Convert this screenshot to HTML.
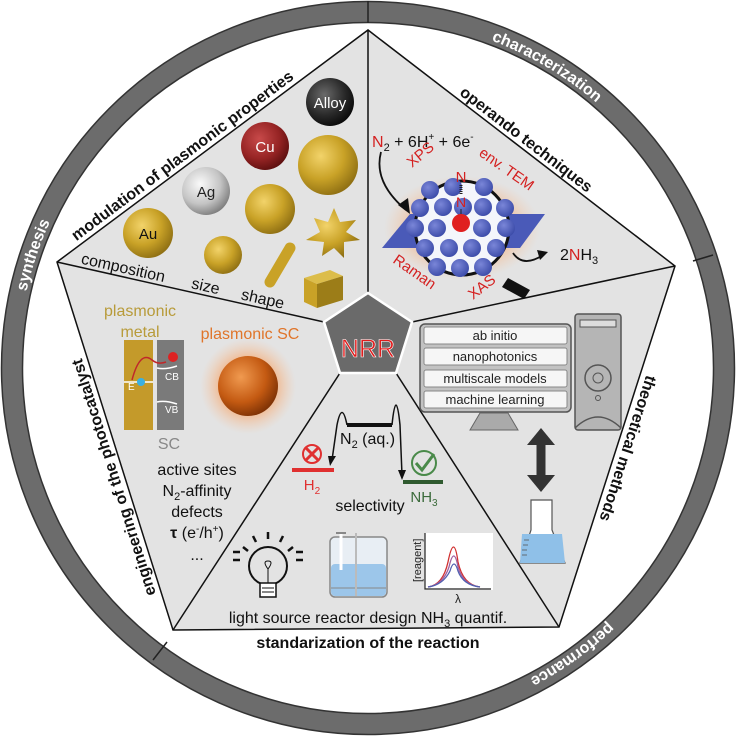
<!DOCTYPE html>
<html><head><meta charset="utf-8"><style>
html,body{margin:0;padding:0;background:#fff}
svg{display:block}
text{font-family:"Liberation Sans",sans-serif}
</style></head><body>
<svg width="736" height="736" viewBox="0 0 736 736" xmlns="http://www.w3.org/2000/svg">
<defs>
<radialGradient id="gold" cx="0.38" cy="0.35" r="0.7"><stop offset="0" stop-color="#f2d36a"/><stop offset="0.55" stop-color="#c9a227"/><stop offset="1" stop-color="#8c6d12"/></radialGradient>
<radialGradient id="ag" cx="0.38" cy="0.35" r="0.7"><stop offset="0" stop-color="#fafafa"/><stop offset="0.6" stop-color="#c4c4c4"/><stop offset="1" stop-color="#7a7a7a"/></radialGradient>
<radialGradient id="cu" cx="0.38" cy="0.35" r="0.7"><stop offset="0" stop-color="#c84a4a"/><stop offset="0.6" stop-color="#962424"/><stop offset="1" stop-color="#5a0e0e"/></radialGradient>
<radialGradient id="al" cx="0.38" cy="0.35" r="0.7"><stop offset="0" stop-color="#6a6a6a"/><stop offset="0.6" stop-color="#2a2a2a"/><stop offset="1" stop-color="#080808"/></radialGradient>
<radialGradient id="cop" cx="0.38" cy="0.35" r="0.7"><stop offset="0" stop-color="#f09a50"/><stop offset="0.6" stop-color="#c45a12"/><stop offset="1" stop-color="#7a3005"/></radialGradient>
<radialGradient id="glow" cx="0.5" cy="0.5" r="0.5"><stop offset="0.5" stop-color="#f4a870" stop-opacity="0.9"/><stop offset="1" stop-color="#f4c8a8" stop-opacity="0"/></radialGradient>
<radialGradient id="bl" cx="0.38" cy="0.35" r="0.7"><stop offset="0" stop-color="#7a86d8"/><stop offset="1" stop-color="#3a4aa8"/></radialGradient>
<path id="ring" d="M 18,368 A 350 350 0 1 1 718,368 A 350 350 0 1 1 18,368"/>
<path id="pModul" d="M 54,258 L 365,26"/>
<path id="pOper" d="M 370,26 L 677,262"/>
<path id="pTheo" d="M 681,268 L 564,628"/>
<path id="pEng" d="M 168,632 L 52,264"/>
<path id="pComp" d="M 56,258 L 324,318"/>
</defs>

<!-- outer ring -->
<circle cx="368" cy="368" r="356" fill="none" stroke="#6c6c6c" stroke-width="21"/>
<circle cx="368" cy="368" r="366.5" fill="none" stroke="#333" stroke-width="1.5"/>
<circle cx="368" cy="368" r="345.5" fill="none" stroke="#333" stroke-width="1.5"/>
<line x1="368" y1="1" x2="368" y2="23" stroke="#222" stroke-width="1.5"/>
<line x1="713" y1="255" x2="693" y2="261" stroke="#222" stroke-width="1.5"/>
<line x1="153" y1="660" x2="167" y2="642" stroke="#222" stroke-width="1.5"/>
<text font-size="16" font-weight="bold" fill="#fff" text-anchor="middle"><textPath href="#ring" startOffset="114">synthesis</textPath></text>
<text font-size="16" font-weight="bold" fill="#fff" text-anchor="middle"><textPath href="#ring" startOffset="737">characterization</textPath></text>
<text font-size="16" font-weight="bold" fill="#fff" text-anchor="middle"><textPath href="#ring" startOffset="1432">performance</textPath></text>

<!-- pentagon -->
<polygon points="57,262 368,30 675,266 559,627 173,630" fill="#e3e3e3" stroke="#111" stroke-width="1.5"/>
<g stroke="#111" stroke-width="1.5">
<line x1="57" y1="262" x2="324" y2="322"/>
<line x1="368" y1="30" x2="368" y2="293"/>
<line x1="675" y1="266" x2="412" y2="322"/>
<line x1="559" y1="627" x2="396" y2="373"/>
<line x1="173" y1="630" x2="340" y2="373"/>
</g>
<polygon points="368,293 412,322 396,373 340,373 324,322" fill="#6a6a6a" stroke="#fff" stroke-width="2.5"/>
<text x="368" y="357" font-size="25" fill="#e01c1c" stroke="#fff" stroke-width="0.6" text-anchor="middle">NRR</text>

<!-- sector titles -->
<text font-size="16" font-weight="bold" fill="#111"><textPath href="#pModul" startOffset="28">modulation of plasmonic properties</textPath></text>
<text font-size="16" font-weight="bold" fill="#111"><textPath href="#pOper" startOffset="112">operando techniques</textPath></text>
<text font-size="16" font-weight="bold" fill="#111"><textPath href="#pTheo" startOffset="112">theoretical methods</textPath></text>
<text font-size="16" font-weight="bold" fill="#111"><textPath href="#pEng" startOffset="40">engineering of the photocatalyst</textPath></text>
<text x="368" y="648" font-size="16" font-weight="bold" fill="#111" text-anchor="middle">standarization of the reaction</text>

<!-- modulation sector -->
<circle cx="148" cy="233" r="25" fill="url(#gold)"/><text x="148" y="239" font-size="15" text-anchor="middle" fill="#111">Au</text>
<circle cx="206" cy="191" r="24" fill="url(#ag)"/><text x="206" y="197" font-size="15" text-anchor="middle" fill="#222">Ag</text>
<circle cx="265" cy="146" r="24" fill="url(#cu)"/><text x="265" y="152" font-size="15" text-anchor="middle" fill="#fff">Cu</text>
<circle cx="330" cy="102" r="24" fill="url(#al)"/><text x="330" y="108" font-size="15" text-anchor="middle" fill="#fff">Alloy</text>
<circle cx="223" cy="255" r="19" fill="url(#gold)"/>
<circle cx="270" cy="209" r="25" fill="url(#gold)"/>
<circle cx="328" cy="165" r="30" fill="url(#gold)"/>
<polygon points="334,208 340,222 356,220 346,232 360,240 344,242 344,258 334,248 322,256 324,242 306,240 320,232 314,218 328,222" fill="url(#gold)"/>
<line x1="290" y1="248" x2="270" y2="282" stroke="#c9a227" stroke-width="11" stroke-linecap="round"/>
<polygon points="304,278 330,270 343,276 317,284" fill="#dcbd4a"/>
<polygon points="304,278 317,284 317,308 304,302" fill="#c9a227"/>
<polygon points="317,284 343,276 343,300 317,308" fill="#9c7d18"/>
<text font-size="16" fill="#111"><textPath href="#pComp" startOffset="25">composition</textPath></text>
<text font-size="16" fill="#111"><textPath href="#pComp" startOffset="138">size</textPath></text>
<text font-size="16" fill="#111"><textPath href="#pComp" startOffset="189">shape</textPath></text>

<!-- engineering sector -->
<text x="140" y="316" font-size="16" fill="#b89b3a" text-anchor="middle">plasmonic</text>
<text x="140" y="337" font-size="16" fill="#b89b3a" text-anchor="middle">metal</text>
<rect x="124" y="340" width="29" height="90" fill="#c49a2a"/>
<rect x="157" y="340" width="27" height="90" fill="#7a7a7a"/>
<line x1="124" y1="382" x2="153" y2="382" stroke="#fff" stroke-width="1.5"/>
<path d="M157,368 q8,2 20,-2 M157,402 q8,-2 20,2" stroke="#fff" stroke-width="1.5" fill="none"/>
<path d="M132,380 q8,-30 20,-20 q6,5 14,2" stroke="#c0282a" stroke-width="1.5" fill="none"/>
<circle cx="173" cy="357" r="5" fill="#d22"/>
<circle cx="141" cy="382" r="4" fill="#3ab0e0"/>
<text x="128" y="390" font-size="10" fill="#fff">E</text>
<text x="165" y="380" font-size="10" fill="#fff">CB</text>
<text x="165" y="413" font-size="10" fill="#fff">VB</text>
<text x="169" y="449" font-size="16" fill="#888" text-anchor="middle">SC</text>
<text x="250" y="339" font-size="16" fill="#e0752a" text-anchor="middle">plasmonic SC</text>
<circle cx="248" cy="386" r="48" fill="url(#glow)"/>
<circle cx="248" cy="386" r="30" fill="url(#cop)"/>
<g font-size="16" fill="#111" text-anchor="middle">
<text x="197" y="475">active sites</text>
<text x="197" y="496">N<tspan font-size="11" dy="4">2</tspan><tspan dy="-4">-affinity</tspan></text>
<text x="197" y="517">defects</text>
<text x="197" y="538"><tspan font-weight="bold">τ</tspan> (e<tspan font-size="10" dy="-6">-</tspan><tspan dy="6">/h</tspan><tspan font-size="10" dy="-6">+</tspan><tspan dy="6">)</tspan></text>
<text x="197" y="560">...</text>
</g>

<!-- operando sector -->
<text x="372" y="147" font-size="16" fill="#111"><tspan fill="#d42020">N</tspan><tspan font-size="11" dy="4">2</tspan><tspan dy="-4"> + 6H</tspan><tspan font-size="10" dy="-7">+</tspan><tspan dy="7"> + 6e</tspan><tspan font-size="10" dy="-7">-</tspan></text>
<ellipse cx="462" cy="228" rx="78" ry="52" fill="url(#glow)"/>
<polygon points="382,248 410,214 545,214 520,248" fill="#4a5ab8"/>
<circle cx="462" cy="228" r="47" fill="#f4f6fb" stroke="#111" stroke-width="3"/>
<g fill="url(#bl)">
<circle cx="430" cy="190" r="9"/><circle cx="453" cy="187" r="9"/><circle cx="484" cy="187" r="9"/>
<circle cx="420" cy="208" r="9"/><circle cx="443" cy="207" r="9"/><circle cx="483" cy="207" r="9"/><circle cx="505" cy="208" r="9"/>
<circle cx="415" cy="228" r="9"/><circle cx="437" cy="228" r="9"/><circle cx="482" cy="228" r="9"/><circle cx="506" cy="228" r="9"/>
<circle cx="425" cy="248" r="9"/><circle cx="449" cy="248" r="9"/><circle cx="472" cy="248" r="9"/><circle cx="496" cy="248" r="9"/>
<circle cx="437" cy="267" r="9"/><circle cx="460" cy="268" r="9"/><circle cx="483" cy="267" r="9"/>
<circle cx="463" cy="207" r="9"/>
</g>
<circle cx="461" cy="223" r="9" fill="#e02020"/>
<text x="461" y="182" font-size="15" fill="#d42020" text-anchor="middle">N</text>
<text x="461" y="207" font-size="14" fill="#d42020" text-anchor="middle">N</text>
<line x1="461" y1="185" x2="461" y2="195" stroke="#222" stroke-width="3" stroke-dasharray="1 1"/>
<line x1="461" y1="209" x2="461" y2="214" stroke="#222" stroke-width="1"/>
<g font-size="15" fill="#d42020">
<text transform="translate(412,168) rotate(-40)">XPS</text>
<text transform="translate(478,155) rotate(35)">env. TEM</text>
<text transform="translate(392,262) rotate(35)">Raman</text>
<text transform="translate(473,300) rotate(-38)">XAS</text>
</g>
<path d="M381,152 q-8,30 25,58" stroke="#111" stroke-width="1.8" fill="none"/>
<polygon points="398,205 410,214 408,198" fill="#111"/>
<path d="M513,253 q10,15 30,2" stroke="#111" stroke-width="1.8" fill="none"/>
<polygon points="548,252 537,250 540,260" fill="#111"/>
<polygon points="508,278 530,290 524,299 502,287" fill="#111"/>
<text x="560" y="260" font-size="16" fill="#111">2<tspan fill="#d42020">N</tspan>H<tspan font-size="11" dy="4">3</tspan></text>

<!-- theoretical sector -->
<rect x="420" y="324" width="151" height="88" rx="5" fill="#c2c2c2" stroke="#555" stroke-width="1.5"/>
<g fill="#f6f6f6" stroke="#888" stroke-width="1">
<rect x="424" y="327" width="143" height="17" rx="2"/>
<rect x="424" y="348" width="143" height="17" rx="2"/>
<rect x="424" y="370" width="143" height="17" rx="2"/>
<rect x="424" y="391" width="143" height="17" rx="2"/>
</g>
<g font-size="13" fill="#222" text-anchor="middle">
<text x="495" y="340">ab initio</text>
<text x="495" y="361">nanophotonics</text>
<text x="495" y="383">multiscale models</text>
<text x="495" y="404">machine learning</text>
</g>
<polygon points="470,430 480,413 508,413 518,430" fill="#aaa" stroke="#666"/>
<rect x="575" y="314" width="46" height="116" rx="3" fill="#b5b5b5" stroke="#555" stroke-width="1.5"/>
<rect x="580" y="320" width="36" height="7" fill="#ddd" stroke="#555"/>
<circle cx="598" cy="378" r="13" fill="#b5b5b5" stroke="#555" stroke-width="1.5"/>
<circle cx="598" cy="378" r="5" fill="none" stroke="#555"/>
<circle cx="598" cy="398" r="2.5" fill="none" stroke="#555"/>
<path d="M575,428 q23,-22 46,0" fill="none" stroke="#555" stroke-width="1.5"/>
<line x1="541" y1="440" x2="541" y2="480" stroke="#333" stroke-width="9"/>
<polygon points="527,445 541,428 555,445" fill="#333"/>
<polygon points="527,475 541,492 555,475" fill="#333"/>
<polygon points="531,500 552,500 552,530 565,563 520,563 531,530" fill="#fff" stroke="#555" stroke-width="1.2"/>
<polygon points="522,534 562,534 565,563 520,563" fill="#8fc0e8"/>
<g stroke="#555" stroke-width="0.8"><line x1="524" y1="540" x2="529" y2="540"/><line x1="523" y1="545" x2="528" y2="545"/><line x1="522" y1="550" x2="527" y2="550"/><line x1="522" y1="555" x2="527" y2="555"/></g>

<!-- standarization sector -->
<line x1="347" y1="425" x2="392" y2="425" stroke="#111" stroke-width="4"/>
<path d="M347,425 q-5,-25 -10,0 l-5,35" stroke="#111" stroke-width="1.5" fill="none"/>
<polygon points="328,456 336,456 330,466" fill="#111"/>
<path d="M392,425 q4,-40 8,0 l2,50" stroke="#111" stroke-width="1.5" fill="none"/>
<polygon points="398,470 406,470 402,480" fill="#111"/>
<text x="340" y="444" font-size="16" fill="#111">N<tspan font-size="11" dy="4">2</tspan><tspan dy="-4"> (aq.)</tspan></text>
<line x1="292" y1="470" x2="334" y2="470" stroke="#e03030" stroke-width="4"/>
<circle cx="312" cy="454" r="9" fill="none" stroke="#e03030" stroke-width="2"/>
<path d="M305,447 l14,14 M319,447 l-14,14" stroke="#e03030" stroke-width="3"/>
<text x="312" y="490" font-size="15" fill="#e03030" text-anchor="middle">H<tspan font-size="10" dy="4">2</tspan></text>
<line x1="403" y1="482" x2="443" y2="482" stroke="#2f5a2f" stroke-width="4"/>
<circle cx="424" cy="463" r="12" fill="none" stroke="#4a8a4a" stroke-width="2"/>
<path d="M416,463 l6,7 l12,-16" stroke="#4a8a4a" stroke-width="3" fill="none"/>
<text x="424" y="502" font-size="15" fill="#3a6a3a" text-anchor="middle">NH<tspan font-size="10" dy="4">3</tspan></text>
<text x="370" y="511" font-size="16" fill="#111" text-anchor="middle">selectivity</text>
<!-- bulb -->
<circle cx="268" cy="566" r="19" fill="none" stroke="#111" stroke-width="2"/>
<rect x="260" y="583" width="16" height="14" fill="#fff" stroke="#111" stroke-width="1.5"/>
<path d="M262,588 h12 M262,592 h12" stroke="#111"/>
<path d="M268,583 v-14 q-6,-8 0,-8 q6,0 0,8" stroke="#111" fill="none"/>
<g stroke="#111" stroke-width="2.5"><line x1="243" y1="547" x2="248" y2="551"/><line x1="253" y1="536" x2="256" y2="542"/><line x1="268" y1="532" x2="268" y2="539"/><line x1="283" y1="536" x2="280" y2="542"/><line x1="293" y1="547" x2="288" y2="551"/><line x1="233" y1="552" x2="240" y2="552"/><line x1="233" y1="560" x2="240" y2="560"/><line x1="296" y1="552" x2="303" y2="552"/><line x1="296" y1="560" x2="303" y2="560"/></g>
<!-- reactor -->
<rect x="330" y="537" width="57" height="60" rx="5" fill="#e8eef4" stroke="#888" stroke-width="1.5"/>
<rect x="331" y="564" width="55" height="32" rx="4" fill="#9cc6ea"/>
<line x1="331" y1="588" x2="386" y2="588" stroke="#888"/>
<line x1="341" y1="533" x2="341" y2="570" stroke="#fff" stroke-width="3"/>
<line x1="356" y1="533" x2="356" y2="596" stroke="#bbb" stroke-width="2"/>
<line x1="336" y1="533" x2="346" y2="533" stroke="#888" stroke-width="2"/>
<!-- graph -->
<rect x="425" y="533" width="68" height="57" fill="#fff"/>
<path d="M425,533 v56 h66" stroke="#222" fill="none" stroke-width="1.2"/>
<g fill="none" stroke-width="1.3">
<path d="M428,587 q15,-2 20,-25 q6,-30 10,0 q5,23 22,25" stroke="#d03030"/>
<path d="M428,587 q15,-2 21,-20 q5,-22 9,0 q5,18 22,20" stroke="#a060a0"/>
<path d="M428,587 q15,-2 22,-16 q4,-14 8,0 q5,14 22,16" stroke="#5060b0"/>
</g>
<text transform="translate(421,582) rotate(-90)" font-size="11" fill="#222">[reagent]</text>
<text x="458" y="603" font-size="12" fill="#222" text-anchor="middle">λ</text>
<text x="368" y="623" font-size="16" fill="#111" text-anchor="middle">light source reactor design NH<tspan font-size="11" dy="4">3</tspan><tspan dy="-4"> quantif.</tspan></text>
</svg>
</body></html>
